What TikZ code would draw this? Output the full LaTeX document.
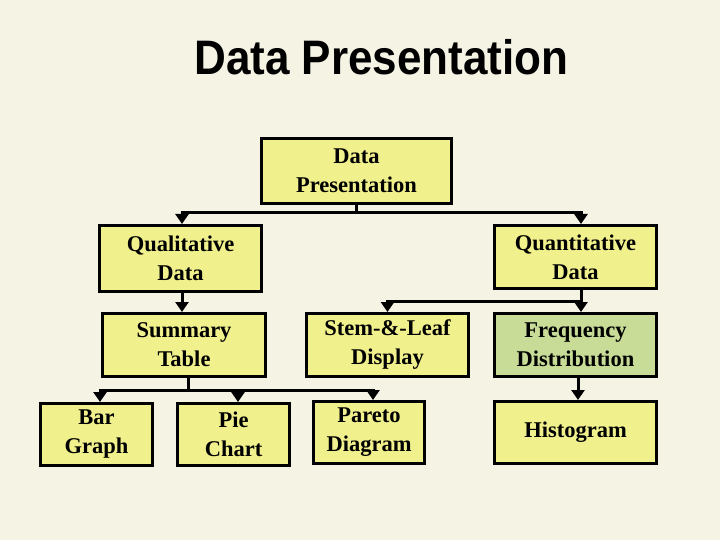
\documentclass[tikz,border=0pt]{standalone}
\usepackage{fontspec}
\setmainfont{Liberation Serif}
\newfontfamily\titlefont{Liberation Sans}
\usepackage{tikz}
\usetikzlibrary{arrows.meta,calc,positioning}
\usepackage{xcolor}
\definecolor{paper}{HTML}{F5F3E4}
\definecolor{boxyellow}{HTML}{F0F08C}
\definecolor{boxgreen}{HTML}{C8DC98}

\tikzset{
  databox/.style={draw, line width=3pt, fill=boxyellow, align=center, inner sep=0pt,
    font=\bfseries\fontsize{22.5}{29}\selectfont},
  link/.style={line width=3pt, -{Triangle[width=13pt,length=10pt]}},
  bar/.style={line width=3pt}
}

\begin{document}
\begin{tikzpicture}[x=1pt,y=-1pt]
\fill[paper] (0,0) rectangle (720,540);
\useasboundingbox (0,0) rectangle (720,540);
\node[anchor=base, font=\titlefont\bfseries\fontsize{44}{50}\selectfont] (title) at (381.5,75) {\scalebox{1}[1.1]{Data Presentation}};
% boxes
\node[databox, minimum width=190, minimum height=65] (top) at (356.5,171) {Data\\Presentation};
\node[databox, minimum width=162, minimum height=66] (qual) at (180.5,258.5) {Qualitative\\Data};
\node[databox, minimum width=162, minimum height=63] (quant) at (575.5,257) {Quantitative\\Data};
\node[databox, minimum width=163, minimum height=63] (summ) at (184,345) {Summary\\Table};
\node[databox, minimum width=162, minimum height=63] (stem) at (387.5,345) {Stem-\&-Leaf\\Display};
\node[databox, fill=boxgreen, minimum width=162, minimum height=63] (freq) at (575.5,345) {Frequency\\Distribution};
\node[databox, minimum width=112, minimum height=62] (bargraph) at (96.5,434.5) {Bar\\Graph};
\node[databox, minimum width=112, minimum height=62] (pie) at (233.5,434.5) {Pie\\Chart};
\node[databox, minimum width=111, minimum height=62] (pareto) at (369,432.5) {Pareto\\Diagram};
\node[databox, minimum width=162, minimum height=62] (hist) at (575.5,432.5) {Histogram};
% connectors
\coordinate (split1) at ($(top.south)+(0,8)$);
\draw[bar] (top.south) -- (split1);
\draw[link] (split1) -| ([xshift=1.5]qual.north);
\draw[link] (split1) -| ([xshift=5.5]quant.north);
\draw[link] ([xshift=1.5]qual.south) -- ([xshift=-2]summ.north);
\draw[link] ([xshift=5.5]quant.south) -- ([xshift=5.5]freq.north);
\coordinate (split2) at ($([xshift=5.5]quant.south)!0.5!([xshift=5.5]freq.north)$);
\draw[link] (split2) -| (stem.north);
\draw[link] ([xshift=2.5]freq.south) -- ([xshift=2.5]hist.north);
\coordinate (split3) at ($([xshift=4]summ.south)+(0,12)$);
\draw[bar] ([xshift=4]summ.south) -- (split3);
\draw[link] (split3) -| ([xshift=3.5]bargraph.north);
\draw[link] (split3) -| ([xshift=4.5]pie.north);
\draw[link] (split3) -| ([xshift=4]pareto.north);
\end{tikzpicture}
\end{document}
